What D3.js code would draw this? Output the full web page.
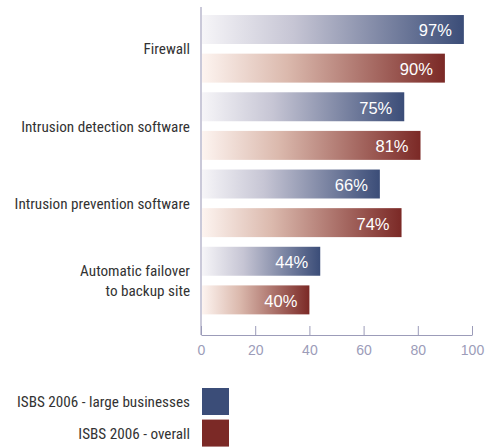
<!DOCTYPE html>
<html>
<head>
<meta charset="utf-8">
<script src="https://cdn.jsdelivr.net/npm/d3@7/dist/d3.min.js"></script>
<style>
  body { margin: 0; background: #fff; }
  svg { display: block; }
</style>
</head>
<body>
<svg id="chart" width="497" height="447"></svg>
<script>
const categories = [
  ["Firewall"],
  ["Intrusion detection software"],
  ["Intrusion prevention software"],
  ["Automatic failover", "to backup site"]
];
const seriesNames = ["ISBS 2006 - large businesses", "ISBS 2006 - overall"];
const largeValues = [97, 75, 66, 44];
const overallValues = [90, 81, 74, 40];
const xTicks = [0, 20, 40, 60, 80, 100];

const colors = { "ISBS 2006 - large businesses": ["#f4f3f7", "#3b4d78"],
                 "ISBS 2006 - overall": ["#fdf3ef", "#7b2926"] };
const labelFont = "'Liberation Sans Narrow', 'Roboto Condensed', 'DejaVu Sans Condensed', sans-serif";
const valueFont = "'Liberation Sans', Arial, sans-serif";

const svg = d3.select("#chart");
const catKeys = categories.map(c => c.join(" "));

const x = d3.scaleLinear().domain([0, 100]).range([201, 472]);
const y0 = d3.scaleBand().domain(catKeys).range([10.2, 319.2]).paddingInner(0).paddingOuter(0);
const y1 = d3.scaleBand().domain(seriesNames).range([0, y0.bandwidth()]).paddingInner(0.25).paddingOuter(0.125);

const defs = svg.append("defs");
seriesNames.forEach((s, i) => {
  const g = defs.append("linearGradient").attr("id", "grad" + i)
    .attr("x1", "0%").attr("x2", "100%").attr("y1", "0%").attr("y2", "0%");
  if (i === 0) {
    g.append("stop").attr("offset", "0%").attr("stop-color", "#f6f5f8");
    g.append("stop").attr("offset", "35%").attr("stop-color", "#c6c5d4");
    g.append("stop").attr("offset", "100%").attr("stop-color", "#3b4d78");
  } else {
    g.append("stop").attr("offset", "0%").attr("stop-color", "#fdf4f0");
    g.append("stop").attr("offset", "35%").attr("stop-color", "#dbb9ad");
    g.append("stop").attr("offset", "100%").attr("stop-color", "#7b2926");
  }
});

const data = [];
catKeys.forEach((c, i) => {
  data.push({ cat: c, series: seriesNames[0], value: largeValues[i], gi: 0 });
  data.push({ cat: c, series: seriesNames[1], value: overallValues[i], gi: 1 });
});

// bars
const bars = svg.append("g").selectAll("g.bar").data(data).join("g").attr("class", "bar");
bars.append("rect")
  .attr("x", x(0) + 1)
  .attr("y", d => y0(d.cat) + y1(d.series))
  .attr("width", d => x(d.value) - x(0) - 1)
  .attr("height", y1.bandwidth())
  .attr("fill", d => `url(#grad${d.gi})`);
bars.append("text")
  .attr("x", d => x(d.value) - 12)
  .attr("y", d => y0(d.cat) + y1(d.series) + y1.bandwidth() / 2 + 1)
  .attr("dy", "0.36em")
  .attr("text-anchor", "end")
  .attr("fill", "#fff")
  .attr("font-family", valueFont)
  .attr("font-size", 16.5)
  .text(d => d.value + "%");

// vertical axis line
svg.append("line")
  .attr("x1", x(0)).attr("x2", x(0))
  .attr("y1", 7).attr("y2", 335)
  .attr("stroke", "#b9b7cc").attr("stroke-width", 1.5);

// x axis
const xAxis = d3.axisBottom(x).tickValues(xTicks).tickSize(0).tickPadding(10).tickFormat(d3.format("d"));
const ax = svg.append("g").attr("transform", "translate(0,335)").call(xAxis);
ax.select(".domain").attr("stroke", "#9c9cb9").attr("stroke-width", 1.2);
ax.selectAll(".tick line").remove();
ax.selectAll(".tick").append("line")
  .attr("y1", 0).attr("y2", -9)
  .attr("stroke", "#9c9cb9").attr("stroke-width", 1);
ax.selectAll(".tick text")
  .attr("fill", "#9c9cb9")
  .attr("font-family", valueFont)
  .attr("font-size", 14);

// category labels
const catG = svg.append("g");
categories.forEach((lines, i) => {
  const cy = y0(catKeys[i]) + y0.bandwidth() / 2;
  const lh = 20;
  const t = catG.append("text")
    .attr("text-anchor", "end")
    .attr("font-family", labelFont)
    .attr("font-size", 15.2)
    .attr("fill", "#333");
  lines.forEach((ln, j) => {
    t.append("tspan")
      .attr("x", 190)
      .attr("y", cy + (j - (lines.length - 1) / 2) * lh)
      .attr("dy", "0.36em")
      .text(ln);
  });
});

// legend
const legend = svg.append("g");
const legY = d3.scaleBand().domain(seriesNames).range([388, 448]).paddingInner(0.1);
seriesNames.forEach((s, i) => {
  legend.append("rect")
    .attr("x", 202).attr("y", legY(s))
    .attr("width", 27).attr("height", 27)
    .attr("fill", colors[s][1]);
  legend.append("text")
    .attr("x", 190).attr("y", legY(s) + 14)
    .attr("dy", "0.36em")
    .attr("text-anchor", "end")
    .attr("font-family", labelFont)
    .attr("font-size", 15.2)
    .attr("fill", "#333")
    .text(s);
});
</script>
</body>
</html>
